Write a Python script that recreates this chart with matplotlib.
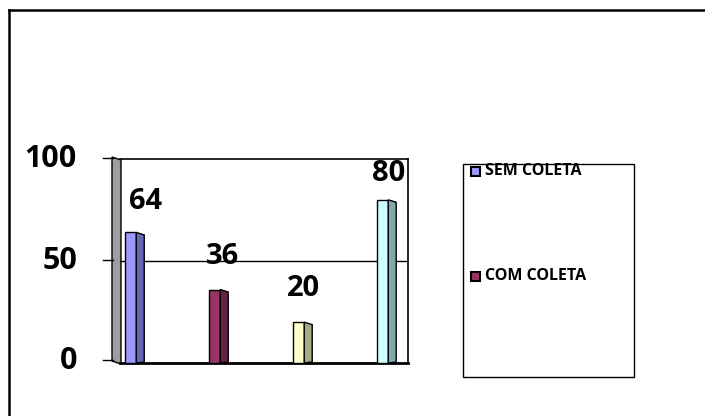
import matplotlib
matplotlib.use("Agg")
import matplotlib.pyplot as plt
from matplotlib.patches import Polygon, Rectangle
import numpy as np

plt.rcParams['font.family'] = ['Open Sans', 'DejaVu Sans']

categories = ["A", "B", "C", "D"]
values = [64, 36, 20, 80]
front_colors = ["#9999FF", "#993366", "#FFFFCC", "#CCFFFF"]
side_colors = ["#6666B3", "#662244", "#A8A888", "#80A8A8"]
yticks = [0, 50, 100]
legend_labels = ["SEM COLETA", "COM COLETA"]
legend_colors = ["#9999FF", "#993366"]

W, H = 705, 416
fig = plt.figure(figsize=(W / 100, H / 100), dpi=100)

# overlay axes in pixel coordinates
ov = fig.add_axes([0, 0, 1, 1])
ov.set_xlim(0, W)
ov.set_ylim(H, 0)
ov.axis("off")

# plot axes
L, R, T, B = 120, 408, 159, 363
ax = fig.add_axes([L / W, 1 - B / H, (R - L) / W, (B - T) / H])
ax.set_ylim(0, 100)
ax.set_xlim(-0.125, 3.304)
ax.patch.set_alpha(0)
ax.spines["left"].set_visible(False)
ax.spines["top"].set_linewidth(1.2)
ax.spines["right"].set_linewidth(1.2)
ax.spines["bottom"].set_linewidth(2.0)
ax.set_xticks([])
ax.set_yticks(yticks)
ax.tick_params(axis="y", length=0)
ax.set_yticklabels([])
ax.axhline(50, color="black", lw=1.0, zorder=1)

x = np.arange(len(values))
fw = 0.137
sd = 0.095
ax.bar(x, values, width=fw, color=front_colors, edgecolor="black", linewidth=1.0, zorder=3)
for xi, v, sc in zip(x, values, side_colors):
    poly = Polygon([(xi + fw / 2, 0), (xi + fw / 2 + sd, 0.5), (xi + fw / 2 + sd, v - 1.2), (xi + fw / 2, v)],
                   closed=True, facecolor=sc, edgecolor="black", linewidth=1.0, zorder=3)
    ax.add_patch(poly)

label_dx = [0.185, 0.10, 0.065, 0.077]
label_off = [15, 16, 16.5, 13]
for xi, v, dx, off in zip(x, values, label_dx, label_off):
    ax.text(xi + dx, v + off, str(v), ha="center", va="center",
            fontsize=21, fontweight="bold", zorder=5)

# gray left wall
wall = Polygon([(112, 157), (121, 160), (121, 364), (112, 361)], closed=True,
               facecolor="#9E9E9E", edgecolor="black", linewidth=1.0, zorder=2)
ov.add_patch(wall)

# tick marks and labels
ytick_px = {100: 158, 50: 260, 0: 360}
for t in yticks:
    yp = ytick_px[t]
    ov.plot([103, 113], [yp, yp], color="black", lw=1.0)
    ov.text(77, yp + 1, str(t), ha="right", va="center", fontsize=22, fontweight="bold")

# outer border
ov.plot([9, W], [10, 10], color="black", lw=1.8, solid_capstyle="projecting")
ov.plot([9, 9], [10, H], color="black", lw=1.8, solid_capstyle="projecting")

# legend box
ov.add_patch(Rectangle((463, 164), 171, 213, facecolor="white", edgecolor="black", linewidth=1.0, zorder=2))
leg_y = [171, 276]
for lab, col, yy in zip(legend_labels, legend_colors, leg_y):
    ov.add_patch(Rectangle((471, yy - 4.5), 9, 9, facecolor=col, edgecolor="black", linewidth=1.5, zorder=3))
    ov.text(485, yy, lab, ha="left", va="center", fontsize=11.5, fontweight="bold", zorder=4)

fig.savefig("out.png", dpi=100)
